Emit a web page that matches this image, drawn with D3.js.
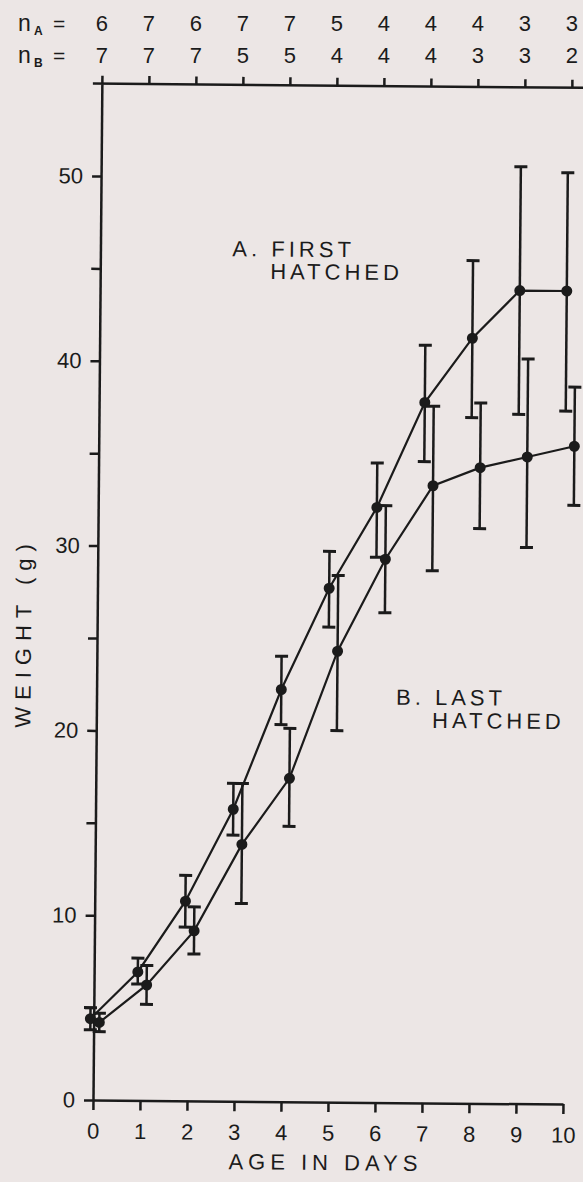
<!DOCTYPE html>
<html>
<head>
<meta charset="utf-8">
<script src="https://cdn.jsdelivr.net/npm/d3@7"></script>
<style>
  body { margin: 0; background: #ece6e5; }
  svg text { font-family: "Liberation Sans", Arial, sans-serif; fill: #1b1b1b; }
</style>
</head>
<body>
<svg id="chart"></svg>
<script>
  // chick weights, first vs last hatched
  var days  = [0, 1, 2, 3, 4, 5, 6, 7, 8, 9, 10];
  var nA    = [6, 7, 6, 7, 7, 5, 4, 4, 4, 3, 3];
  var nB    = [7, 7, 7, 5, 5, 4, 4, 4, 3, 3, 2];

  var meanA = [4.4, 6.95, 10.8, 15.8, 22.3, 27.8, 32.2, 37.9, 41.4, 44.0, 44.0];
  var lowA  = [3.8, 6.3, 9.4, 14.4, 20.4, 25.7, 29.5, 34.7, 37.1, 37.3, 37.5];
  var highA = [5.0, 7.7, 12.2, 17.2, 24.1, 29.8, 34.6, 41.0, 45.6, 50.7, 50.4];

  var meanB = [4.2, 6.25, 9.2, 13.9, 17.5, 24.4, 29.4, 33.4, 34.4, 35.0, 35.6];
  var lowB  = [3.7, 5.2, 7.95, 10.7, 14.9, 20.1, 26.5, 28.8, 31.1, 30.1, 32.4];
  var highB = [4.7, 7.3, 10.5, 17.2, 20.2, 28.5, 32.3, 37.7, 37.9, 40.3, 38.8];

  var yTicks = [0, 5, 10, 15, 20, 25, 30, 35, 40, 45, 50];

  var width = 583, height = 1182;
  var ink = "#1b1b1b";
  var tilt = 0.5;   // the scanned page sits a little crooked

  var x = d3.scaleLinear().domain([0, 10]).range([93, 563]);
  var y = d3.scaleLinear().domain([0, 55]).range([1100, 83.6]);

  function tiltedX(px, py) {
    var a = tilt * Math.PI / 180;
    return x(0) + (px - x(0)) * Math.cos(a) - (py - y(0)) * Math.sin(a);
  }

  var svg = d3.select("#chart").attr("width", width).attr("height", height);
  svg.append("rect").attr("width", width).attr("height", height).attr("fill", "#ece6e5");

  var g = svg.append("g")
    .attr("transform", "rotate(" + tilt + "," + x(0) + "," + y(0) + ")");

  // bottom axis
  g.append("g")
    .attr("transform", "translate(0," + y(0) + ")")
    .call(d3.axisBottom(x).tickValues(days).tickSize(10).tickSizeOuter(0).tickPadding(13));

  // left axis, unlabeled minor ticks at the fives
  g.append("g")
    .attr("transform", "translate(" + x(0) + ",0)")
    .call(d3.axisLeft(y).tickValues(yTicks)
      .tickFormat(function(d){ return d % 10 === 0 ? d : ""; })
      .tickSize(9).tickSizeOuter(0).tickPadding(9));

  // top axis that carries the sample sizes
  var topAxis = g.append("g")
    .attr("transform", "translate(0," + y(55) + ")")
    .call(d3.axisTop(x).tickValues(days).tickSize(8).tickSizeOuter(0).tickFormat(""));
  topAxis.select(".domain").attr("d", "M" + (x(0) - 9) + ",0H" + (width + 20));

  g.selectAll(".domain, .tick line")
    .attr("stroke", ink).attr("stroke-width", 2.5);
  g.selectAll(".tick text")
    .attr("font-size", 22).attr("fill", ink);

  var series = [
    {mean: meanA, low: lowA, high: highA, dodge: -0.07},
    {mean: meanB, low: lowB, high: highB, dodge: 0.12}
  ];

  series.forEach(function(s){
    var rows = days.map(function(d, i){
      return {day: d + s.dodge, mean: s.mean[i], low: s.low[i], high: s.high[i]};
    });

    var line = d3.line()
      .x(function(r){ return x(r.day); })
      .y(function(r){ return y(r.mean); });

    g.append("path")
      .datum(rows)
      .attr("d", line)
      .attr("fill", "none")
      .attr("stroke", ink)
      .attr("stroke-width", 2.2);

    var bars = g.append("g").selectAll("g").data(rows).enter().append("g");
    bars.append("line")
      .attr("x1", function(r){ return x(r.day); })
      .attr("x2", function(r){ return x(r.day); })
      .attr("y1", function(r){ return y(r.low); })
      .attr("y2", function(r){ return y(r.high); })
      .attr("stroke", ink).attr("stroke-width", 2.5);
    ["low", "high"].forEach(function(k){
      bars.append("line")
        .attr("x1", function(r){ return x(r.day) - 6.5; })
        .attr("x2", function(r){ return x(r.day) + 6.5; })
        .attr("y1", function(r){ return y(r[k]); })
        .attr("y2", function(r){ return y(r[k]); })
        .attr("stroke", ink).attr("stroke-width", 3);
    });

    g.append("g").selectAll("circle").data(rows).enter().append("circle")
      .attr("cx", function(r){ return x(r.day); })
      .attr("cy", function(r){ return y(r.mean); })
      .attr("r", 5.5)
      .attr("fill", ink);
  });

  // curve labels, two lines in one text each
  function label(first, second, x1, y1, x2, y2) {
    var t = g.append("text").attr("font-size", 22).attr("letter-spacing", 4);
    t.append("tspan").attr("x", x1).attr("y", y1).text(first);
    t.append("tspan").attr("x", x2).attr("y", y2).text(second);
  }
  label("A. FIRST", "HATCHED", 225, 255, 263, 277.5);
  label("B. LAST", "HATCHED", 392.6, 702, 428.8, 725);

  g.append("text")
    .attr("x", 326).attr("y", 1168)
    .attr("text-anchor", "middle")
    .attr("font-size", 22).attr("letter-spacing", 5)
    .text("AGE IN DAYS");

  g.append("text")
    .attr("transform", "translate(27,633) rotate(-90)")
    .attr("text-anchor", "middle")
    .attr("font-size", 22).attr("letter-spacing", 7)
    .text("WEIGHT (g)");

  // sample sizes above the plot
  var nRows = [{sub: "A", vals: nA, base: 31}, {sub: "B", vals: nB, base: 63}];
  nRows.forEach(function(row){
    var t = svg.append("text").attr("x", 18).attr("y", row.base).attr("font-size", 23);
    t.append("tspan").text("n");
    t.append("tspan").attr("x", 34).attr("dy", 4).attr("font-size", 12).attr("font-weight", "bold").text(row.sub);
    t.append("tspan").attr("x", 53).attr("dy", -4).attr("font-size", 21).text("=");

    svg.append("g").selectAll("text").data(row.vals).enter().append("text")
      .attr("x", function(v, i){ return tiltedX(x(days[i]), y(55)); })
      .attr("y", row.base)
      .attr("text-anchor", "middle")
      .attr("font-size", 22)
      .text(function(v){ return v; });
  });
</script>
</body>
</html>
